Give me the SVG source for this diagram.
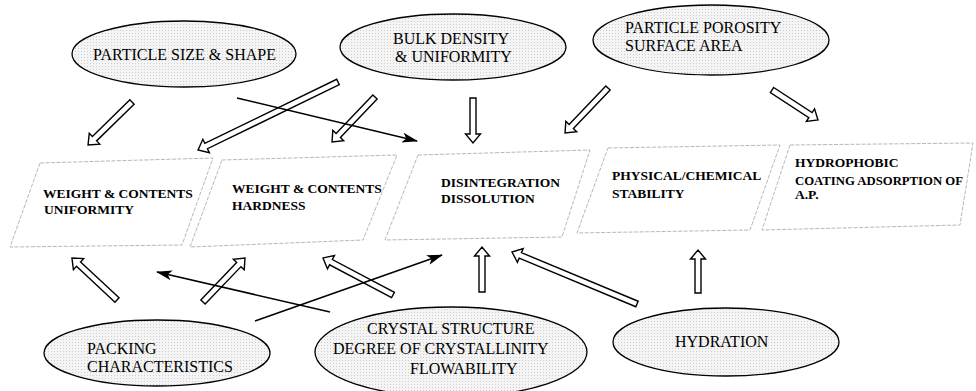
<svg xmlns="http://www.w3.org/2000/svg" width="976" height="391" viewBox="0 0 976 391">
<defs>
<pattern id="dots" width="3" height="3" patternUnits="userSpaceOnUse">
<rect width="3" height="3" fill="#f4f4f4"/>
<rect width="1" height="1" fill="#cfcfcf"/>
</pattern>
<marker id="tri" viewBox="0 0 16 10" refX="15" refY="5" markerWidth="16" markerHeight="10" markerUnits="userSpaceOnUse" orient="auto">
<path d="M0,0 L16,5 L0,10 L4,5 Z" fill="#000"/>
</marker>
</defs>
<style>
.ell{fill:url(#dots);stroke:#000;stroke-width:1.3}
.et{font-family:"Liberation Serif","Times New Roman","DejaVu Serif",serif;font-size:16px;fill:#000}
.box{fill:#fff;stroke:#b8b8b8;stroke-width:1;stroke-dasharray:4 1.5}
.bt{font-family:"Liberation Serif","Times New Roman","DejaVu Serif",serif;font-size:13.5px;font-weight:bold;fill:#000}
.blk{fill:#fff;stroke:#000;stroke-width:1.4;stroke-linejoin:miter}
.ln{fill:none;stroke:#000;stroke-width:1.5;marker-end:url(#tri)}
</style>
<rect width="976" height="391" fill="#fff"/>

<g id="box-uniformity">
<polygon class="box" points="40,163 213,158 182,245 10,247"/>
<text class="bt" x="43" y="198">WEIGHT &amp; CONTENTS</text>
<text class="bt" x="44" y="214">UNIFORMITY</text>
</g>
<g id="box-hardness">
<polygon class="box" points="222,160 397,155 363,240 190,247"/>
<text class="bt" x="232" y="193">WEIGHT &amp; CONTENTS</text>
<text class="bt" x="232" y="210">HARDNESS</text>
</g>
<g id="box-dissolution">
<polygon class="box" points="418,155 590,150 562,237 385,240"/>
<text class="bt" x="441" y="187">DISINTEGRATION</text>
<text class="bt" x="441" y="203">DISSOLUTION</text>
</g>
<g id="box-stability">
<polygon class="box" points="608,148 780,145 750,230 577,233"/>
<text class="bt" x="612" y="180">PHYSICAL/CHEMICAL</text>
<text class="bt" x="612" y="198">STABILITY</text>
</g>
<g id="box-hydrophobic">
<polygon class="box" points="790,145 973,143 960,225 762,230"/>
<text class="bt" x="795" y="167">HYDROPHOBIC</text>
<text class="bt" x="795" y="185" textLength="168" lengthAdjust="spacingAndGlyphs">COATING ADSORPTION OF</text>
<text class="bt" x="795" y="199">A.P.</text>
</g>

<g id="particle-size">
<ellipse class="ell" cx="184" cy="54" rx="112" ry="33"/>
<text class="et" x="93" y="60">PARTICLE SIZE &amp; SHAPE</text>
</g>
<g id="bulk-density">
<ellipse class="ell" cx="453" cy="47" rx="113" ry="33"/>
<text class="et" x="393" y="44">BULK DENSITY</text>
<text class="et" x="395" y="62">&amp; UNIFORMITY</text>
</g>
<g id="particle-porosity">
<ellipse class="ell" cx="711" cy="40" rx="118" ry="35"/>
<text class="et" x="625" y="33">PARTICLE POROSITY</text>
<text class="et" x="625" y="51">SURFACE AREA</text>
</g>
<g id="packing">
<ellipse class="ell" cx="157" cy="353" rx="113" ry="33"/>
<text class="et" x="87" y="354">PACKING</text>
<text class="et" x="87" y="372">CHARACTERISTICS</text>
</g>
<g id="crystal">
<ellipse class="ell" cx="451" cy="352" rx="136" ry="45"/>
<text class="et" x="367" y="334">CRYSTAL STRUCTURE</text>
<text class="et" x="333" y="354">DEGREE OF CRYSTALLINITY</text>
<text class="et" x="410" y="374">FLOWABILITY</text>
</g>
<g id="hydration">
<ellipse class="ell" cx="726" cy="342" rx="113" ry="34"/>
<text class="et" x="675" y="347">HYDRATION</text>
</g>

<g id="connectors">
<path class="blk" transform="translate(132,102) rotate(135.6)" d="M0,-3 L52.5,-3 L52.5,-7.5 L61.5,0 L52.5,7.5 L52.5,3 L0,3 Z"/>
<path class="blk" transform="translate(338,82) rotate(154.1)" d="M0,-3 L146.6,-3 L146.6,-7.5 L155.6,0 L146.6,7.5 L146.6,3 L0,3 Z"/>
<path class="blk" transform="translate(375,97) rotate(133.7)" d="M0,-3 L53.2,-3 L53.2,-7.5 L62.2,0 L53.2,7.5 L53.2,3 L0,3 Z"/>
<path class="blk" transform="translate(473,98) rotate(90)" d="M0,-3 L36,-3 L36,-7.5 L45,0 L36,7.5 L36,3 L0,3 Z"/>
<path class="blk" transform="translate(608,88) rotate(133.7)" d="M0,-3 L53.2,-3 L53.2,-7.5 L62.2,0 L53.2,7.5 L53.2,3 L0,3 Z"/>
<path class="blk" transform="translate(772,90) rotate(33.1)" d="M0,-3 L45.9,-3 L45.9,-7.5 L54.9,0 L45.9,7.5 L45.9,3 L0,3 Z"/>
<path class="blk" transform="translate(117,300) rotate(-137)" d="M0,-3 L52.6,-3 L52.6,-7.5 L61.6,0 L52.6,7.5 L52.6,3 L0,3 Z"/>
<path class="blk" transform="translate(203,302) rotate(-46.3)" d="M0,-3 L51.8,-3 L51.8,-7.5 L60.8,0 L51.8,7.5 L51.8,3 L0,3 Z"/>
<path class="blk" transform="translate(393,295) rotate(-152.1)" d="M0,-3 L70.2,-3 L70.2,-7.5 L79.2,0 L70.2,7.5 L70.2,3 L0,3 Z"/>
<path class="blk" transform="translate(482,292) rotate(-90)" d="M0,-3 L36,-3 L36,-7.5 L45,0 L36,7.5 L36,3 L0,3 Z"/>
<path class="blk" transform="translate(637,304) rotate(-157.4)" d="M0,-3 L126.4,-3 L126.4,-7.5 L135.4,0 L126.4,7.5 L126.4,3 L0,3 Z"/>
<path class="blk" transform="translate(698,293) rotate(-90)" d="M0,-3 L34,-3 L34,-7.5 L43,0 L34,7.5 L34,3 L0,3 Z"/>
<line class="ln" x1="237" y1="98" x2="417" y2="141"/>
<line class="ln" x1="330" y1="312" x2="157" y2="272"/>
<line class="ln" x1="255" y1="321" x2="442" y2="255"/>
</g>
</svg>
